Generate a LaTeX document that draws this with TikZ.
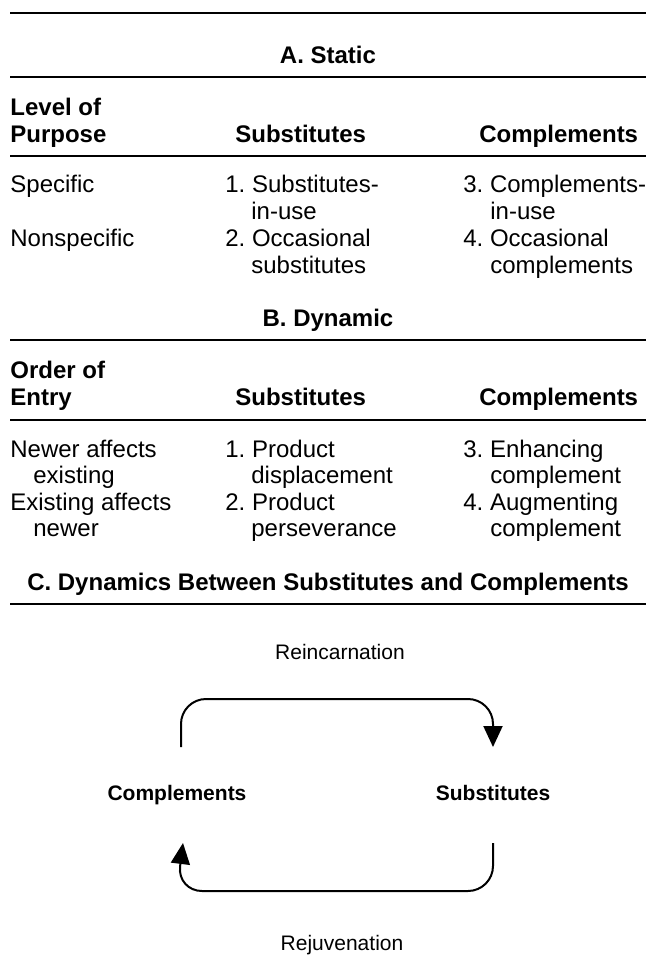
\documentclass[tikz,border=0pt]{standalone}
\usepackage{fontspec}
\setmainfont{Liberation Sans}
\usetikzlibrary{arrows.meta}

\begin{document}
\frenchspacing
\begin{tikzpicture}[
 x=0.5pt,y=-0.5pt,
 every node/.style={inner sep=0pt,font=\fontsize{12}{14}\selectfont},
 ttl/.style={anchor=mid,font=\fontsize{12}{14}\selectfont\bfseries},
 hd/.style={anchor=mid west,font=\fontsize{12}{14}\selectfont\bfseries},
 cell/.style={anchor=mid west},
 rl/.style={line width=1.3pt},
 lb/.style={font=\fontsize{10.5}{12}\selectfont},
 lbb/.style={font=\fontsize{10.5}{12}\selectfont\bfseries,text height=7.6pt,text depth=2.2pt},
 cyc/.style={-{Triangle[length=10.5pt,width=9.5pt]},line width=1pt,rounded corners=12.5pt}]
 \useasboundingbox (0,0) rectangle (646,970);
 \draw[rl] (10,13) -- (646,13);
 % A. Static
 \node[ttl] (ta) at (328,58) {A. Static};
 \draw[rl] (10,77) -- (646,77);
 \node[hd] (lvl) at (10,110) {Level of};
 \node[hd] (purp) at (10,137) {Purpose};
 \node[hd] (hsa) at (235,137) {Substitutes};
 \node[hd] (hca) at (479,137) {Complements};
 \draw[rl] (10,156) -- (646,156);
 \node[cell] (spec) at (10,187) {Specific};
 \node[cell] (nspec) at (10,241) {Nonspecific};
 \node[cell] (sa1) at (225,187) {1. Substitutes-};
 \node[cell] (sa1b) at (251,214) {in-use};
 \node[cell] (sa2) at (225,241) {2. Occasional};
 \node[cell] (sa2b) at (251,268) {substitutes};
 \node[cell] (ca3) at (463,187) {3. Complements-};
 \node[cell] (ca3b) at (490,214) {in-use};
 \node[cell] (ca4) at (463,241) {4. Occasional};
 \node[cell] (ca4b) at (490,268) {complements};
 % B. Dynamic
 \node[ttl] (tb) at (328,321) {B. Dynamic};
 \draw[rl] (10,340) -- (646,340);
 \node[hd] (ordr) at (10,373) {Order of};
 \node[hd] (entr) at (10,400) {Entry};
 \node[hd] (hsb) at (235,400) {Substitutes};
 \node[hd] (hcb) at (479,400) {Complements};
 \draw[rl] (10,420) -- (646,420);
 \node[cell] (nwr) at (10,452) {Newer affects};
 \node[cell] (nwrb) at (33,478.5) {existing};
 \node[cell] (ext) at (10,505) {Existing affects};
 \node[cell] (extb) at (33,531.5) {newer};
 \node[cell] (sb1) at (225,452) {1. Product};
 \node[cell] (sb1b) at (251,478.5) {displacement};
 \node[cell] (sb2) at (225,505) {2. Product};
 \node[cell] (sb2b) at (251,531.5) {perseverance};
 \node[cell] (cb3) at (463,452) {3. Enhancing};
 \node[cell] (cb3b) at (490,478.5) {complement};
 \node[cell] (cb4) at (463,505) {4. Augmenting};
 \node[cell] (cb4b) at (490,531.5) {complement};
 % C. Dynamics
 \node[ttl] (tc) at (328,585) {C. Dynamics Between Substitutes and Complements};
 \draw[rl] (10,604) -- (646,604);
 \node[lbb] (comp) at (177,795) {Complements};
 \node[lbb] (subs) at (493,795) {Substitutes};
 \node[lb] (reinc) at (340,652) {Reincarnation};
 \node[lb] (rejuv) at (342,945) {Rejuvenation};
 \draw[cyc] ([xshift=2pt,yshift=24pt]comp.center) |- ([yshift=48pt]subs.center)
  -- ([yshift=24pt]subs.center);
 \draw[cyc] ([yshift=-24pt]subs.center) |- ([yshift=-48pt]comp.center)
  -- ([xshift=3pt,yshift=-24pt]comp.center);
\end{tikzpicture}
\end{document}
